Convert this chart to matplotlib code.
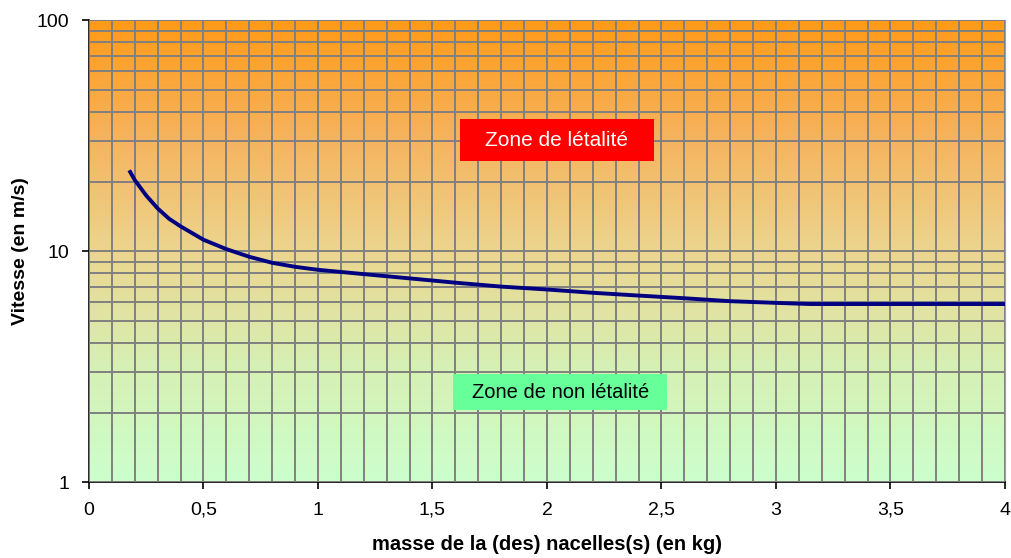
import matplotlib
matplotlib.use("Agg")
import matplotlib.pyplot as plt
import matplotlib.patches as mpatches
import numpy as np
from matplotlib.colors import LinearSegmentedColormap
from matplotlib.ticker import FixedLocator, LogLocator, NullFormatter

plt.rcParams["font.family"] = ["Liberation Sans", "DejaVu Sans"]

# mass (kg) vs lethal speed threshold (m/s)
masse = [0.18, 0.20, 0.25, 0.30, 0.35, 0.40, 0.50, 0.60, 0.70, 0.80, 0.90,
         1.00, 1.20, 1.40, 1.60, 1.80, 2.00, 2.20, 2.40, 2.60, 2.80, 3.00,
         3.15, 3.50, 4.00]
vitesse = [22.0, 20.3, 17.4, 15.3, 13.8, 12.8, 11.2, 10.2, 9.45, 8.9, 8.55,
           8.3, 7.95, 7.62, 7.3, 7.02, 6.82, 6.6, 6.42, 6.25, 6.07, 5.97,
           5.9, 5.9, 5.9]

xticks = [0, 0.5, 1, 1.5, 2, 2.5, 3, 3.5, 4]
xticklabels = ["0", "0,5", "1", "1,5", "2", "2,5", "3", "3,5", "4"]
yticks = [1, 10, 100]
yticklabels = ["1", "10", "100"]

fig = plt.figure(figsize=(10.11, 5.58), dpi=100)
ax = fig.add_axes([0.088, 0.136, 0.906, 0.828])

# vertical gradient background, orange at top -> pale green at bottom
cmap = LinearSegmentedColormap.from_list(
    "bg", [(0.0, "#CCFFCC"), (0.25, "#D6F0B4"), (0.5, "#ECD58E"),
           (0.75, "#F6B25C"), (1.0, "#FF9A16")])
grad = np.linspace(0, 1, 256).reshape(-1, 1)
ax.imshow(grad, cmap=cmap, aspect="auto", origin="lower",
          extent=[0, 1, 0, 1], transform=ax.transAxes, zorder=0)

ax.set_yscale("log")
ax.set_xlim(0, 4)
ax.set_ylim(1, 100)

ax.xaxis.set_minor_locator(FixedLocator(np.arange(0, 4.01, 0.1)))
ax.yaxis.set_minor_locator(LogLocator(base=10, subs=np.arange(2, 10)))
ax.yaxis.set_minor_formatter(NullFormatter())
ax.grid(True, which="both", color="#808080", lw=1.4, zorder=1)
ax.set_axisbelow(False)

ax.plot(masse, vitesse, color="#000080", lw=2.8, zorder=3)

ax.set_xticks(xticks)
ax.set_xticklabels(xticklabels)
ax.set_yticks(yticks)
ax.set_yticklabels(yticklabels)
ax.tick_params(which="minor", length=0)
ax.tick_params(which="major", length=5, width=1.2, labelsize=14, pad=9)

for side in ("top", "right"):
    ax.spines[side].set_color("#A0A0A0")
for side in ("left", "bottom"):
    ax.spines[side].set_color("black")
    ax.spines[side].set_linewidth(1.2)

ax.set_xlabel("masse de la (des) nacelles(s) (en kg)", fontsize=14.5,
              fontweight="bold", labelpad=12)
ax.set_ylabel("Vitesse (en m/s)", fontsize=14, fontweight="bold")
ax.yaxis.set_label_coords(-0.066, 0.5)

# zone label boxes
ax.add_patch(mpatches.Rectangle((1.62, 24.5), 0.847, 37.3 - 24.5,
                                fc="#FF0000", ec="none", zorder=4))
ax.text(2.04, 30.2, "Zone de létalité", color="white", fontsize=15,
        ha="center", va="center", zorder=5)
ax.add_patch(mpatches.Rectangle((1.59, 2.05), 0.934, 2.94 - 2.05,
                                fc="#66FF99", ec="none", zorder=4))
ax.text(2.06, 2.45, "Zone de non létalité", color="black", fontsize=14.5,
        ha="center", va="center", zorder=5)

fig.savefig("out.png", dpi=100)
plt.close(fig)
